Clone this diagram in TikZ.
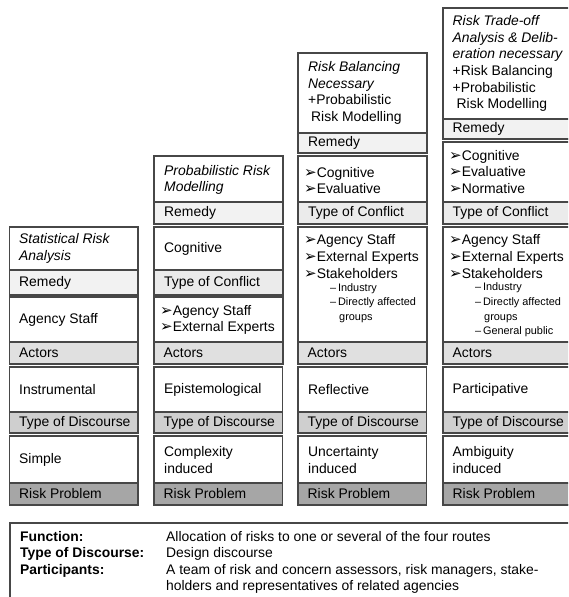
\documentclass[tikz,border=0pt]{standalone}
\usepackage{fontspec}
\setmainfont{Liberation Sans}
\newfontfamily\symfont{DejaVu Sans}
\usepackage{tikz}
\definecolor{framegray}{gray}{0.28}
\definecolor{remedygray}{gray}{0.95}
\definecolor{conflictgray}{gray}{0.92}
\definecolor{actorgray}{gray}{0.88}
\definecolor{discgray}{gray}{0.81}
\definecolor{problemgray}{gray}{0.65}
\newcommand{\arrowbullet}{{\symfont\fontsize{15}{15}\selectfont\char"27A2}}

\begin{document}
\begin{tikzpicture}[x=1pt, y=-1pt,
    box/.style={draw=framegray, line width=1.1pt, fill=white},
    band/.style={draw=framegray, line width=1.1pt},
    txt/.style={anchor=west, align=left, inner sep=0pt,
      font=\fontsize{13.9}{16.7}\selectfont},
    subtxt/.style={anchor=west, align=left, inner sep=0pt,
      font=\fontsize{10.9}{14.6}\selectfont}]
    \useasboundingbox (0,0) rectangle (568,597);
    \clip (0,0) rectangle (568,597);
% column 1: statistical risk analysis
    \draw[box] (9.5,227) rectangle (138,295);
    \filldraw[band, fill=remedygray] (9.5,270) rectangle (138,295);
    \node[txt] (stat) at (19,248.5) {\textit{Statistical Risk}\\\textit{Analysis}};
    \node[txt] (remedy1) at (19,282.5) {Remedy};
    \draw[box] (9.5,297) rectangle (138,364);
    \node[txt] (actors1) at (19,320) {Agency Staff};
    \node[txt] (discourse1) at (19,390) {Instrumental};
    \node[txt] (problem1) at (19,460) {Simple};
% column 2: probabilistic risk modelling
    \draw[box] (154,156) rectangle (283,224);
    \filldraw[band, fill=remedygray] (154,202) rectangle (283,224);
    \node[txt] (probab) at (164,180) {\textit{Probabilistic Risk}\\\textit{Modelling}};
    \node[txt] (remedy2) at (164,213) {Remedy};
    \draw[box] (154,227) rectangle (283,295);
    \filldraw[band, fill=conflictgray] (154,270) rectangle (283,295);
    \node[txt] (conflict2) at (164,249) {Cognitive};
    \node[txt] (conflictlab2) at (164,282.5) {Type of Conflict};
    \draw[box] (154,297) rectangle (283,364);
    \node[txt] (actors2) at (160,320) {\arrowbullet Agency Staff\\\arrowbullet External Experts};
    \node[txt] (discourse2) at (164,390) {Epistemological};
    \node[txt] (problem2) at (164,460) {Complexity\\induced};
% column 3: risk balancing
    \draw[box] (298,53) rectangle (427,153);
    \filldraw[band, fill=remedygray] (298,133) rectangle (427,153);
    \node[txt] (balanc) at (308,93) {\textit{Risk Balancing}\\\textit{Necessary}\\+Probabilistic\\\hspace*{3pt}Risk Modelling};
    \node[txt] (remedy3) at (308,143) {Remedy};
    \draw[box] (298,156) rectangle (427,224);
    \filldraw[band, fill=conflictgray] (298,202) rectangle (427,224);
    \node[txt] (conflict3) at (304,180.5) {\arrowbullet Cognitive\\\arrowbullet Evaluative};
    \node[txt] (conflictlab3) at (308,213) {Type of Conflict};
    \draw[box] (298,227) rectangle (427,364);
    \node[txt] (actors3) at (304,256.7) {\arrowbullet Agency Staff\\\arrowbullet External Experts\\\arrowbullet Stakeholders};
    \node[subtxt] (groups3) at (330,303) {--\,Industry\\--\,Directly affected\\\hspace*{9pt}groups};
    \node[txt] (discourse3) at (308,390) {Reflective};
    \node[txt] (problem3) at (308,460) {Uncertainty\\induced};
% column 4: risk trade-off analysis
    \draw[box] (443,8) rectangle (572,139);
    \filldraw[band, fill=remedygray] (443,119) rectangle (572,139);
    \node[txt] (tradeoff) at (452.5,63.5) {\textit{Risk Trade-off}\\\textit{Analysis \& Delib-}\\\textit{eration necessary}\\+Risk Balancing\\+Probabilistic\\\hspace*{4pt}Risk Modelling};
    \node[txt] (remedy4) at (452.5,129) {Remedy};
    \draw[box] (443,142) rectangle (572,224);
    \filldraw[band, fill=conflictgray] (443,202) rectangle (572,224);
    \node[txt] (conflict4) at (449,172) {\arrowbullet Cognitive\\\arrowbullet Evaluative\\\arrowbullet Normative};
    \node[txt] (conflictlab4) at (452.5,213) {Type of Conflict};
    \draw[box] (443,227) rectangle (572,364);
    \node[txt] (actors4) at (449,256.7) {\arrowbullet Agency Staff\\\arrowbullet External Experts\\\arrowbullet Stakeholders};
    \node[subtxt] (groups4) at (475,310) {--\,Industry\\--\,Directly affected\\\hspace*{9pt}groups\\--\,General public};
    \node[txt] (discourse4) at (452.5,390) {Participative};
    \node[txt] (problem4) at (452.5,460) {Ambiguity\\induced};
% rows every column has
    \foreach \i/\x in {1/9.5, 2/154, 3/298, 4/443} {
      \filldraw[band, fill=actorgray] (\x,342) rectangle ++(128.5,22);
      \node[txt] (actorlab\i) at (\x+9.5,353) {Actors};
      \draw[box, fill=none] (\x,367) rectangle ++(128.5,66);
      \filldraw[band, fill=discgray] (\x,412) rectangle ++(128.5,21);
      \node[txt] (disclab\i) at (\x+9.5,422.5) {Type of Discourse};
      \draw[box, fill=none] (\x,436) rectangle ++(128.5,69);
      \filldraw[band, fill=problemgray] (\x,483) rectangle ++(128.5,22);
      \node[txt] (problab\i) at (\x+9.5,494) {Risk Problem};
    }
% summary box
    \draw[draw=framegray, line width=1.6pt] (10,523) rectangle (600,630);
    \node[txt, font=\fontsize{13.9}{16.7}\selectfont\bfseries] (funclab) at (20,537) {Function:};
    \node[txt, font=\fontsize{13.9}{16.7}\selectfont\bfseries] (typelab) at (20,554) {Type of Discourse:};
    \node[txt, font=\fontsize{13.9}{16.7}\selectfont\bfseries] (partlab) at (20,571) {Participants:};
    \node[txt] (func) at (166,537) {Allocation of risks to one or several of the four routes};
    \node[txt] (type) at (166,554) {Design discourse};
    \node[txt] (part) at (166,579) {A team of risk and concern assessors, risk managers, stake-\\holders and representatives of related agencies};
\end{tikzpicture}
\end{document}
